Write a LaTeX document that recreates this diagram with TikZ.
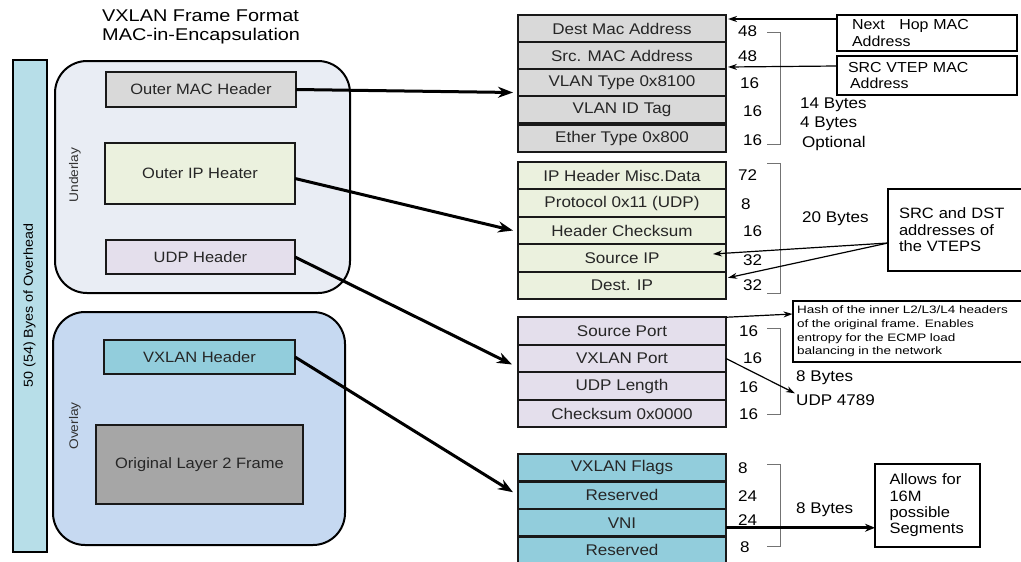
\documentclass[tikz,border=0pt]{standalone}
\usepackage{fontspec}
\setmainfont{Liberation Sans}[FakeStretch=1.1]
\newfontfamily\titlefont{Liberation Sans}[FakeStretch=1.17]
\newfontfamily\hashfont{Liberation Sans}[FakeStretch=1.25]
\usepackage{xcolor}
\usetikzlibrary{positioning}
\usetikzlibrary{arrows.meta}
\definecolor{macgray}{HTML}{D9D9D9}
\definecolor{ipgreen}{HTML}{EBF1DE}
\definecolor{udplilac}{HTML}{E4DFEC}
\definecolor{vxteal}{HTML}{92CDDC}
\definecolor{framegray}{HTML}{A6A6A6}
\definecolor{barblue}{HTML}{B7DEE8}
\definecolor{underbg}{HTML}{E9EDF4}
\definecolor{overbg}{HTML}{C6D9F1}
\definecolor{tipblue}{HTML}{4F6FA0}
\newcommand{\rowwidth}{208pt}
\newcommand{\rowfont}{\fontsize{15.5}{17}\selectfont}
\newcommand{\notefont}{\fontsize{14.5}{16.5}\selectfont}

\begin{document}
\begin{tikzpicture}[x=1pt,y=-1pt,
    field/.style={draw=black!90,line width=2.2pt,minimum width=\rowwidth,minimum height=27.5pt,
        inner sep=0pt,outer sep=0pt,font=\rowfont,text=black!85},
    hdr/.style={draw=black!90,line width=2pt,inner sep=0pt,outer sep=0pt,font=\fontsize{15}{17}\selectfont,text=black!85},
    bits/.style={font=\rowfont,inner sep=1pt},
    lbl/.style={font=\rowfont,inner sep=1pt,anchor=west},
    note/.style={draw,line width=2pt,align=left,inner sep=0pt,outer sep=0pt,font=\notefont},
    brace/.style={draw=black!55,line width=1pt}]
    \useasboundingbox (0,0) rectangle (1021,562);

    % title and overhead bar
    \node[anchor=north west,align=left,inner sep=0pt,font=\titlefont\fontsize{17}{19}\selectfont]
        (title) at (102,10) {VXLAN Frame Format\\MAC-in-Encapsulation};
    \node[draw,line width=2pt,fill=barblue,rotate=90,minimum width=492pt,minimum height=34pt,
        font=\fontsize{13}{15}\selectfont] (bar) at (29.5,305.5) {50 (54) Byes of Overhead};

    % underlay / overlay groups
    \draw[line width=2pt,fill=underbg,rounded corners=32pt] (55,61) rectangle (350,293);
    \draw[line width=2pt,fill=overbg,rounded corners=32pt] (53,312) rectangle (345,545);
    \node[rotate=90,font=\fontsize{12.5}{14}\selectfont,text=black!80] (underlay) at (75,175) {Underlay};
    \node[rotate=90,font=\fontsize{12.5}{14}\selectfont,text=black!80] (overlay) at (75,426) {Overlay};

    \node[hdr,fill=macgray,minimum width=190pt,minimum height=35pt] (omac) at (201,89.5) {Outer MAC Header};
    \node[hdr,fill=ipgreen,minimum width=190pt,minimum height=61pt] (oip) at (200,173.5) {Outer IP Heater};
    \node[hdr,fill=udplilac,minimum width=189pt,minimum height=34pt] (udph) at (200.5,257) {UDP Header};
    \node[hdr,fill=vxteal,minimum width=191pt,minimum height=34pt] (vxh) at (199.5,357) {VXLAN Header};
    \node[hdr,fill=framegray,minimum width=207pt,minimum height=79pt] (l2frame) at (199.5,464.5) {Original Layer 2 Frame};

    % outer MAC fields
    \begin{scope}[every node/.style={field,fill=macgray,minimum height=27pt}]
        \node (dmac) at (622,28.5) {Dest Mac Address};
        \node[below=0pt of dmac] (smac) {Src. MAC Address};
        \node[below=0pt of smac] (vtype) {VLAN Type 0x8100};
        \node[below=0pt of vtype] (vid) {VLAN ID Tag};
        \node[below=2pt of vid] (ether) {Ether Type 0x800};
    \end{scope}

    % outer IP fields
    \begin{scope}[every node/.style={field,fill=ipgreen}]
        \node (misc) at (622,175.5) {IP Header Misc.Data};
        \node[below=0pt of misc] (proto) {Protocol 0x11 (UDP)};
        \node[below=0pt of proto] (hcheck) {Header Checksum};
        \node[below=0pt of hcheck] (sip) {Source IP};
        \node[below=0pt of sip] (dip) {Dest. IP};
    \end{scope}

    % UDP fields
    \begin{scope}[every node/.style={field,fill=udplilac}]
        \node (sport) at (622,331) {Source Port};
        \node[below=0pt of sport] (vport) {VXLAN Port};
        \node[below=0pt of vport] (ulen) {UDP Length};
        \node[below=0pt of ulen] (ucheck) {Checksum 0x0000};
    \end{scope}

    % VXLAN fields
    \begin{scope}[every node/.style={field,fill=vxteal}]
        \node (flags) at (622,467.75) {VXLAN Flags};
        \node[below=0pt of flags] (vres1) {Reserved};
        \node[below=0pt of vres1] (vni) {VNI};
        \node[below=0pt of vni] (vres2) {Reserved};
    \end{scope}

    % bit counts
    \begin{scope}[every node/.style={bits}]
        \node[right=11pt of dmac,yshift=-3pt] (bdmac) {48};
        \node[right=11pt of smac,yshift=-1pt] (bsmac) {48};
        \node[right=13pt of vtype,yshift=-1pt] (bvtype) {16};
        \node[right=16pt of vid,yshift=-2pt] (bvid) {16};
        \node[right=16pt of ether,yshift=-2pt] (bether) {16};
        \node[right=11pt of misc] (bmisc) {72};
        \node[right=14pt of proto,yshift=-1pt] (bproto) {8};
        \node[right=16pt of hcheck,yshift=-1pt] (bhcheck) {16};
        \node[right=16pt of sip,yshift=-2pt] (bsip) {32};
        \node[right=16pt of dip] (bdip) {32};
        \node[right=12pt of sport] (bsport) {16};
        \node[right=16pt of vport] (bvport) {16};
        \node[right=12pt of ulen,yshift=-1pt] (bulen) {16};
        \node[right=12pt of ucheck,yshift=-1pt] (bucheck) {16};
        \node[right=11pt of flags] (bflags) {8};
        \node[right=11pt of vres1,yshift=-1pt] (bvres1) {24};
        \node[right=11pt of vni,yshift=3pt] (bvni) {24};
        \node[right=13pt of vres2,yshift=3pt] (bvres2) {8};
    \end{scope}

    % brackets and sizes
    \draw[brace] (767,32) -- (780,32) -- (780,144) -- (767,144);
    \draw[brace] (767,163) -- (780,163) -- (780,293) -- (767,293);
    \draw[brace] (767,328) -- (780,328) -- (780,414) -- (767,414);
    \draw[brace] (767,464) -- (780,464) -- (780,546) -- (767,546);
    \node[lbl] (macbytes) at (799,105) {14 Bytes};
    \node[lbl] (tagbytes) at (799,124) {4 Bytes};
    \node[lbl] (optional) at (801,143) {Optional};
    \node[lbl] (ipbytes) at (801,219) {20 Bytes};
    \node[lbl] (udpbytes) at (795,378) {8 Bytes};
    \node[lbl] (udpport) at (795,400) {UDP 4789};
    \node[lbl] (vxbytes) at (795,510) {8 Bytes};

    % notes
    \node[note,minimum width=180pt,minimum height=36pt,text width=150pt] (nexthop) at (927,33)
        {Next\quad Hop MAC\\Address};
    \node[note,minimum width=180pt,minimum height=39pt,text width=158pt] (srcvtep) at (927,75.5)
        {SRC VTEP MAC\\\hspace{2pt}Address};
    \node[note,minimum width=136pt,minimum height=82pt,text width=114pt,
        font=\fontsize{15}{16.5}\selectfont] (vteps) at (956,230)
        {SRC and DST\\addresses of\\the VTEPS};
    \node[note,minimum width=233pt,minimum height=61pt,text width=224pt,
        font=\hashfont\fontsize{10.8}{13.7}\selectfont] (hash) at (909,331.5)
        {\hbox{Hash of the inner L2/L3/L4 headers}\\of the original frame. Enables\\entropy for the ECMP load\\balancing in the network};
    \node[note,minimum width=105pt,minimum height=83pt,text width=76pt,
        font=\fontsize{15}{16.3}\selectfont] (allows) at (927.5,505.5)
        {Allows for\\16M\\possible\\Segments};

    % header to field arrows
    \begin{scope}[>={Stealth[black,length=15pt,width=11pt]},
        every edge/.style={draw=black,line width=3pt}]
        \path [->] (omac.east) edge ([xshift=-5pt,yshift=-10pt]vtype.west);
        \path [->] ([yshift=-5pt]oip.east) edge ([xshift=-5pt]hcheck.west);
        \path [->] (udph.east) edge ([xshift=-6pt,yshift=-6pt]vport.west);
        \path [->] (vxh.east) edge ([xshift=-5pt,yshift=3pt]vres1.west);
    \end{scope}

    % note pointers
    \begin{scope}[>={Stealth[fill=tipblue,length=9pt,width=6pt]},
        every edge/.style={draw=black,line width=1.2pt}]
        \path [->] ([yshift=-4pt]nexthop.north west) edge ([xshift=2pt,yshift=-4pt]dmac.north east);
        \path [->] ([yshift=-10pt]srcvtep.north west) edge ([xshift=2pt,yshift=2pt]smac.south east);
        \path [->] ([yshift=-54pt]vteps.north west) edge ([xshift=-13pt,yshift=4pt]sip.east);
        \path [->] ([yshift=-54pt]vteps.north west) edge ([xshift=2pt,yshift=-6pt]dip.north east);
        \path [->] (sport.north east) edge ([yshift=-13pt]hash.north west);
        \path [->] (vport.east) edge (udpport.north west);
    \end{scope}

    \coordinate (vnitap) at ([yshift=-5pt]vni.east);
    \draw[-{Stealth[black,length=10pt,width=8pt]},line width=3pt] (vnitap) -- (vnitap -| allows.west);
\end{tikzpicture}
\end{document}
